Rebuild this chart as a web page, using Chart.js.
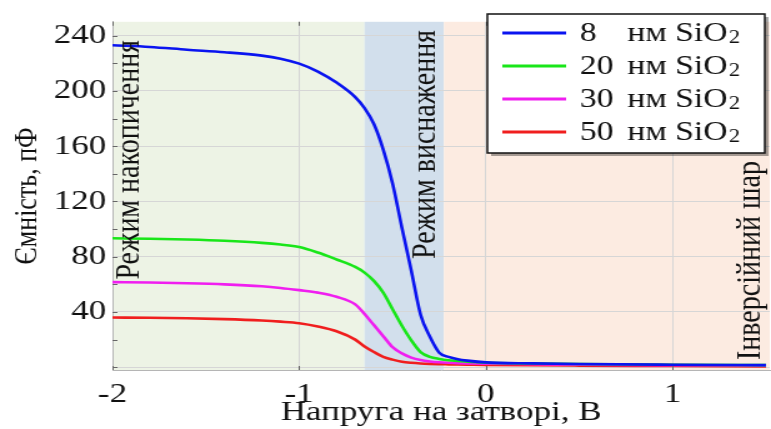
<!DOCTYPE html>
<html>
<head>
<meta charset="utf-8">
<script src="https://cdn.jsdelivr.net/npm/chart.js@4/dist/chart.umd.min.js"></script>
<style>
  html, body { margin: 0; background: #fff; overflow: hidden; }
  /* the original figure is stretched sideways, so the chart is drawn narrow and widened */
  #wrap { width: 617px; height: 429px; transform: scaleX(1.2496); transform-origin: 0 0; }
  #cv { display: block; }
</style>
</head>
<body>
<div id="wrap"><canvas id="cv" width="617" height="429"></canvas></div>
<script>
// gate voltage, V
const voltage = [-2, -1.8, -1.6, -1.4, -1.2, -1.1, -1.0, -0.9, -0.8, -0.7, -0.65, -0.6, -0.55, -0.5,
  -0.45, -0.4, -0.35, -0.3, -0.25, -0.2, -0.15, -0.1, 0, 0.25, 0.5, 1.0, 1.5];

// capacitance, pF
const cap8 = [233, 231.8, 229.8, 228, 225.5, 223.3, 219.7, 214, 206, 195.5, 187.5, 176, 157.5, 133,
  101, 70, 38, 22, 10.5, 7.5, 5.8, 4.8, 3.5, 2.8, 2.3, 1.8, 1.5];
const cap20 = [93.3, 93, 92.4, 91.5, 90, 88.8, 87, 83, 78, 72.6, 68.5, 62.5, 54, 42,
  30, 19.5, 11, 7.5, 6, 5, 4.5, 4, 3.3, 2.7, 2.3, 1.8, 1.5];
const cap30 = [61.6, 61.3, 60.8, 60, 58.6, 57.4, 55.8, 54, 51, 45.5, 38.5, 30.5, 22.5, 14.5,
  10, 7, 5.2, 4.2, 3.6, 3.2, 2.9, 2.7, 2.5, 2.2, 1.9, 1.5, 1.2];
const cap50 = [36, 35.8, 35.4, 34.8, 33.8, 33, 31.9, 29.5, 26, 20, 15, 11, 7.5, 5.5,
  4, 3.2, 2.7, 2.4, 2.2, 2.1, 2, 1.9, 1.7, 1.4, 1.2, 0.9, 0.6];

const thickness = ['8', '20', '30', '50'];
const colors = ['#0a14f0', '#19e619', '#f01ef0', '#f01e1e'];

const xTicks = [-2, -1, 0, 1];
const yTicks = [40, 80, 120, 160, 200, 240];
const yGrid = [0, 20, 40, 60, 80, 100, 120, 140, 160, 180, 200, 220, 240];

// regime boundaries along the voltage axis
const regionEdges = [-2, -0.65, -0.225, 1.52];
const regionNames = ['Режим накопичення', 'Режим виснаження', 'Інверсійний шар'];
const regionColors = ['#edf3e5', '#d2dfec', '#fcebe1'];

const serif = "'Liberation Serif', 'Times New Roman', serif";

const toPoints = ys => voltage.map((v, i) => ({ x: v, y: ys[i] }));

const bands = {
  id: 'bands',
  beforeDraw(chart) {
    const { ctx, chartArea: a, scales: { x } } = chart;
    ctx.save();
    for (let i = 0; i < regionNames.length; i++) {
      const x0 = x.getPixelForValue(regionEdges[i]);
      const x1 = x.getPixelForValue(regionEdges[i + 1]);
      ctx.fillStyle = regionColors[i];
      ctx.fillRect(x0, a.top, x1 - x0, a.bottom - a.top);
    }
    ctx.restore();
  },
  afterDraw(chart) {
    const { ctx, chartArea: a, scales: { x, y } } = chart;
    ctx.save();
    // small inner tick marks
    ctx.strokeStyle = '#666';
    ctx.lineWidth = 1;
    ctx.beginPath();
    yGrid.forEach(v => {
      const py = Math.round(y.getPixelForValue(v)) + 0.5;
      ctx.moveTo(a.left, py); ctx.lineTo(a.left + 4, py);
    });
    xTicks.forEach(v => {
      const px = Math.round(x.getPixelForValue(v)) + 0.5;
      ctx.moveTo(px, a.top); ctx.lineTo(px, a.top + 4);
      ctx.moveTo(px, a.bottom); ctx.lineTo(px, a.bottom - 4);
    });
    ctx.stroke();

    // regime names, written bottom to top
    ctx.fillStyle = '#111';
    ctx.font = '28px ' + serif;
    ctx.textBaseline = 'middle';
    const spots = [[104, 40, 'right'], [341, 30, 'right'], [601, 360, 'left']];
    spots.forEach(([px, py, align], i) => {
      ctx.save();
      ctx.translate(px, py);
      ctx.rotate(-Math.PI / 2);
      ctx.textAlign = align;
      ctx.fillText(regionNames[i], 0, 0);
      ctx.restore();
    });

    // legend box
    const bx = 390, by = 14, bw = 222, bh = 139;
    ctx.fillStyle = 'rgba(0,0,0,0.35)';
    ctx.fillRect(bx + 3, by + 3, bw, bh);
    ctx.fillStyle = '#fff';
    ctx.fillRect(bx, by, bw, bh);
    ctx.strokeStyle = '#111';
    ctx.lineWidth = 1.5;
    ctx.strokeRect(bx, by, bw, bh);
    ctx.textAlign = 'left';
    chart.data.datasets.forEach((ds, i) => {
      const ly = by + 19 + i * 33;
      ctx.strokeStyle = ds.borderColor;
      ctx.lineWidth = 3;
      ctx.beginPath();
      ctx.moveTo(402, ly); ctx.lineTo(453, ly);
      ctx.stroke();
      ctx.fillStyle = '#111';
      ctx.font = '27px ' + serif;
      ctx.fillText(thickness[i], 464, ly + 1);
      ctx.fillText('нм SiO', 502, ly + 1);
      const w = ctx.measureText('нм SiO').width;
      ctx.font = '18px ' + serif;
      ctx.fillText('2', 502 + w + 1, ly + 5);
    });
    ctx.restore();
  }
};

new Chart(document.getElementById('cv'), {
  type: 'line',
  data: {
    datasets: [cap8, cap20, cap30, cap50].map((ys, i) => ({
      label: thickness[i] + ' нм SiO₂',
      data: toPoints(ys),
      borderColor: colors[i],
      backgroundColor: colors[i],
      borderWidth: 2.6,
      pointRadius: 0,
      cubicInterpolationMode: 'monotone'
    }))
  },
  options: {
    responsive: false,
    animation: false,
    layout: { padding: { top: 7, right: 1, left: 0, bottom: 0 } },
    plugins: { legend: { display: false }, tooltip: { enabled: false } },
    scales: {
      x: {
        type: 'linear',
        min: regionEdges[0],
        max: regionEdges[regionEdges.length - 1],
        afterBuildTicks: s => { s.ticks = xTicks.map(v => ({ value: v })); },
        afterFit: s => { s.height = 59; },
        grid: { color: '#d6d6d6', drawTicks: false },
        border: { color: '#b5b5b5' },
        ticks: { color: '#111', padding: 8, font: { family: serif, size: 28 } },
        title: {
          display: true,
          text: 'Напруга на затворі, В',
          color: '#111',
          padding: { top: 0, bottom: 0 },
          font: { family: serif, size: 28 }
        }
      },
      y: {
        min: -2,
        max: 250,
        afterBuildTicks: s => { s.ticks = yGrid.map(v => ({ value: v })); },
        afterFit: s => { s.width = 90; },
        grid: { color: '#d6d6d6', drawTicks: false },
        border: { color: '#b5b5b5' },
        ticks: {
          color: '#111',
          padding: 5,
          font: { family: serif, size: 28 },
          callback: v => yTicks.includes(v) ? v : ''
        },
        title: {
          display: true,
          text: 'Ємність, пФ',
          color: '#111',
          padding: { top: 7, bottom: 0 },
          font: { family: serif, size: 26 }
        }
      }
    }
  },
  plugins: [bands]
});
</script>
</body>
</html>
